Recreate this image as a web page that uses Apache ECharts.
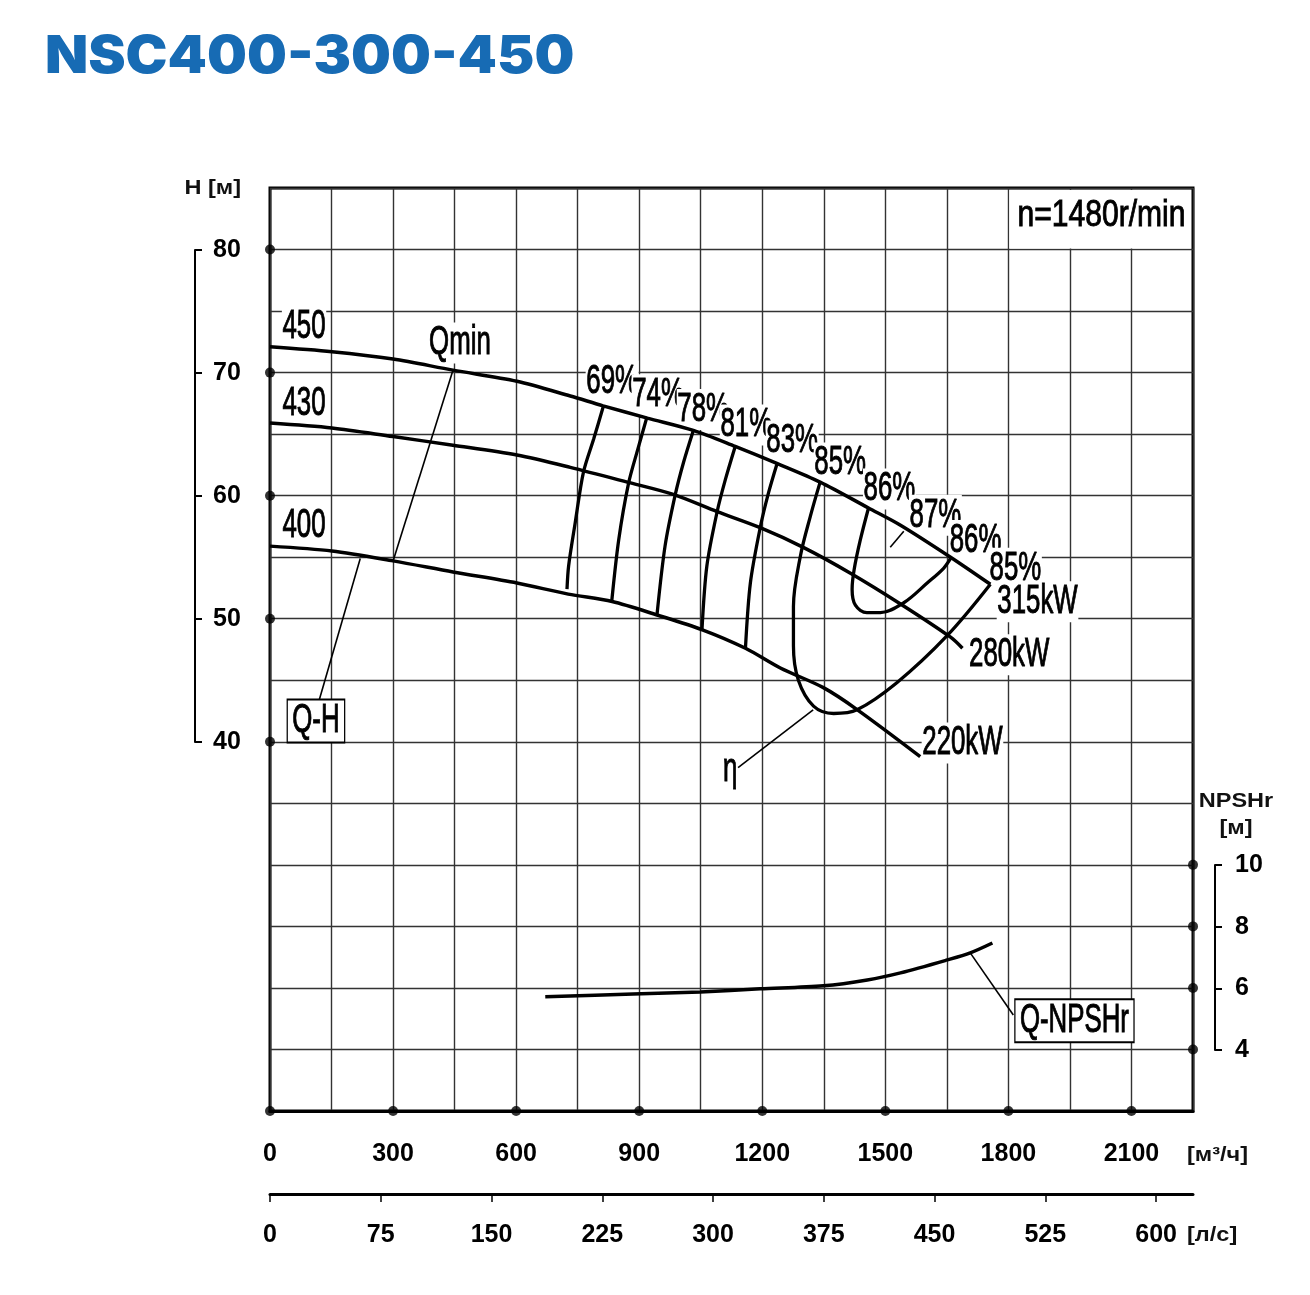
<!DOCTYPE html>
<html>
<head>
<meta charset="utf-8">
<title>NSC400-300-450</title>
<script src="https://cdn.jsdelivr.net/npm/echarts@6/dist/echarts.min.js"></script>
<style>
  html, body { margin: 0; padding: 0; background: #fff; }
  #chart { width: 1310px; height: 1295px; }
</style>
</head>
<body>
<div id="chart"></div>
<script>
// axis ticks
var qTicks = [0, 300, 600, 900, 1200, 1500, 1800, 2100];      // м³/ч
var lsTicks = [0, 75, 150, 225, 300, 375, 450, 525, 600];      // л/с
var hTicks = [40, 50, 60, 70, 80];                              // H, м
var npshTicks = [4, 6, 8, 10];                                  // NPSHr, м

// Q-H curves per impeller diameter, [Q m³/h, H m]
var curve450 = [[0, 72.1], [151, 71.7], [300, 71.1], [446, 70.2], [602, 69.3], [732, 68.1], [812, 67.3], [920, 66.3], [1032, 65.3], [1134, 64.0], [1237, 62.6], [1341, 61.1], [1459, 59.0], [1537, 57.6], [1659, 55.0], [1756, 52.8]];
var curve430 = [[0, 65.9], [151, 65.5], [300, 64.8], [446, 64.1], [602, 63.3], [732, 62.3], [871, 61.1], [983, 60.1], [1090, 58.7], [1195, 57.4], [1300, 55.8], [1415, 53.7], [1537, 51.2], [1659, 48.5], [1688, 47.6]];
var curve400 = [[0, 55.9], [151, 55.5], [300, 54.7], [446, 53.8], [602, 52.9], [727, 52.0], [834, 51.4], [944, 50.3], [1054, 49.1], [1159, 47.6], [1244, 46.0], [1349, 44.4], [1432, 42.6], [1585, 38.8]];

// iso-efficiency lines
var eff69 = [[813, 67.3], [789, 64.6], [764, 61.9], [744, 57.8], [728, 54.3], [724, 52.4]];
var eff74 = [[919, 66.4], [896, 63.7], [874, 61.0], [850, 56.4], [833, 51.4]];
var eff78 = [[1032, 65.3], [1008, 62.7], [988, 60.1], [963, 55.9], [943, 50.2]];
var eff81 = [[1134, 64.0], [1110, 61.3], [1090, 58.7], [1065, 54.3], [1053, 49.1]];
var eff83 = [[1236, 62.6], [1215, 60.2], [1195, 57.4], [1171, 52.9], [1159, 47.6]];
var eff85 = [[1341, 61.1], [1317, 58.3], [1293, 55.1], [1276, 51.0], [1276, 47.8], [1288, 45.0], [1325, 42.9], [1374, 42.3], [1431, 42.6], [1528, 44.8], [1650, 48.6], [1756, 52.8]];
var eff86 = [[1459, 59.0], [1439, 56.4], [1424, 54.0], [1419, 52.4], [1427, 51.1], [1455, 50.5], [1488, 50.5], [1545, 51.3], [1602, 52.9], [1642, 54.1], [1659, 54.9]];

// Q-NPSHr, [Q m³/h, NPSHr m]
var npshCurve = [[671, 5.71], [885, 5.80], [1049, 5.87], [1195, 5.97], [1349, 6.07], [1456, 6.26], [1537, 6.49], [1651, 6.91], [1707, 7.14], [1761, 7.46]];

// leader lines
var qminLeader = [[446, 70.2], [300, 54.7]];
var qhLeader = [[220, 54.9], [120, 43.4]];
var eff87Leader = [[1512, 55.8], [1545, 57.1]];
var etaLeader = [[1324, 42.6], [1141, 37.9]];
var npshLeader = [[1707, 7.14], [1812, 5.12]];

// text on the chart: [text, Q, H]
var annotations = [
  ["450", 83, 73.7], ["430", 83, 67.5], ["400", 83, 57.6], ["Qmin", 463, 72.4],
  ["69%", 834, 69.3], ["74%", 946, 68.2], ["78%", 1056, 67.0], ["81%", 1161, 65.75],
  ["83%", 1273, 64.45], ["85%", 1390, 62.66], ["86%", 1510, 60.55], ["87%", 1622, 58.4],
  ["86%", 1720, 56.35], ["85%", 1817, 54.1],
  ["315kW", 1871, 51.38], ["280kW", 1802, 47.07], ["220kW", 1688, 39.9], ["η", 1122, 37.7]
];

var sans = '"Liberation Sans", Arial, Helvetica, sans-serif';

function curve(data, width, yIdx, smooth) {
  return {
    type: "line",
    data: data,
    xAxisIndex: 0,
    yAxisIndex: yIdx || 0,
    smooth: smooth === undefined ? 0.3 : smooth,
    symbol: "none",
    silent: true,
    animation: false,
    lineStyle: { color: "#000", width: width },
    z: 3,
  };
}
function dots(data, yIdx) {
  return {
    type: "scatter",
    data: data,
    xAxisIndex: 0,
    yAxisIndex: yIdx,
    symbolSize: 10,
    clip: false,
    silent: true,
    itemStyle: { color: "#000" },
    z: 6,
  };
}

var tickLabel = { color: "#000", fontSize: 25, fontWeight: "bold", fontFamily: sans };
var gridLine = { show: true, lineStyle: { color: "#333", width: 1.4 } };

var option = {
  backgroundColor: "#fff",
  animation: false,
  grid: [
    { left: 270, top: 188, width: 923, height: 923, show: true, borderColor: "#000", borderWidth: 3, backgroundColor: "transparent" },
    { left: 195, top: 250, width: 10, height: 492 },
    { left: 1215, top: 865, width: 10, height: 185 },
    { left: 270, top: 1184, width: 923, height: 10 },
  ],
  xAxis: [
    {
      gridIndex: 0, type: "value", min: 0, max: 2250, interval: 150,
      axisLine: { show: true, lineStyle: { color: "#000", width: 3 } },
      axisTick: { show: false },
      splitLine: gridLine,
      axisLabel: Object.assign({
        margin: 31,
        formatter: function (v) { return qTicks.indexOf(v) >= 0 ? String(v) : ""; },
      }, tickLabel),
    },
    { gridIndex: 1, type: "value", show: false, min: 0, max: 1 },
    { gridIndex: 2, type: "value", show: false, min: 0, max: 1 },
    {
      gridIndex: 3, type: "value", min: 0, max: 625, interval: 75, position: "bottom",
      axisLine: { show: true, lineStyle: { color: "#000", width: 3 } },
      axisTick: { show: true, length: 8, customValues: lsTicks, lineStyle: { color: "#000", width: 1.5 } },
      splitLine: { show: false },
      axisLabel: Object.assign({ margin: 29, customValues: lsTicks }, tickLabel),
    },
  ],
  yAxis: [
    {
      gridIndex: 0, type: "value", min: 10, max: 85, interval: 5,
      axisLine: { show: false }, axisTick: { show: false }, axisLabel: { show: false },
      splitLine: gridLine,
    },
    {
      // NPSHr scale of the main grid
      gridIndex: 0, type: "value", min: 2, max: 32, interval: 2, position: "right", show: false,
    },
    {
      gridIndex: 1, type: "value", min: 40, max: 80, interval: 10, position: "left",
      axisLine: { show: true, lineStyle: { color: "#000", width: 2 } },
      axisTick: { show: true, inside: true, length: 7, lineStyle: { color: "#000", width: 2 } },
      splitLine: { show: false },
      axisLabel: Object.assign({ inside: true, margin: 18, customValues: hTicks }, tickLabel),
    },
    {
      gridIndex: 2, type: "value", min: 4, max: 10, interval: 2, position: "left",
      axisLine: { show: true, lineStyle: { color: "#000", width: 2 } },
      axisTick: { show: true, inside: true, length: 7, lineStyle: { color: "#000", width: 2 } },
      splitLine: { show: false },
      axisLabel: Object.assign({ inside: true, margin: 20, customValues: npshTicks }, tickLabel),
    },
    { gridIndex: 3, type: "value", show: false, min: 0, max: 1 },
  ],
  series: [
    curve(curve450, 3.5),
    curve(curve430, 3.5),
    curve(curve400, 3.5),
    curve(eff69, 3.3),
    curve(eff74, 3.3),
    curve(eff78, 3.3),
    curve(eff81, 3.3),
    curve(eff83, 3.3),
    curve(eff85, 3.3, 0, 0.35),
    curve(eff86, 3.3, 0, 0.35),
    curve(npshCurve, 3.5, 1),
    curve(qminLeader, 1.6, 0, false),
    curve(qhLeader, 1.6, 0, false),
    curve(eff87Leader, 1.6, 0, false),
    curve(etaLeader, 1.6, 0, false),
    curve(npshLeader, 1.6, 1, false),
    dots(qTicks.map(function (q) { return [q, 10]; }), 0),
    dots(hTicks.map(function (h) { return [0, h]; }), 0),
    dots(npshTicks.map(function (n) { return [2250, n]; }), 1),
  ],
};

var myChart = echarts.init(document.getElementById("chart"));
myChart.setOption(option);

// texts placed through the axes' scales
var toPx = function (q, v, yIdx) {
  return myChart.convertToPixel({ xAxisIndex: 0, yAxisIndex: yIdx || 0 }, [q, v]);
};
var graphics = [];
// title
graphics.push({
  type: "text", x: 45, y: 57, scaleX: 1.08, z: 10,
  style: { text: "NSC400-300-450", fontSize: 52, fontWeight: 900, fontFamily: "Inter", fill: "#176bb4", align: "left", verticalAlign: "middle" },
});
var c1 = toPx(1800, 85), c2 = toPx(2250, 80);
graphics.push({
  type: "rect", z: 1, silent: true,
  shape: { x: c1[0] + 1, y: c1[1] + 2, width: c2[0] - c1[0] - 3, height: c2[1] - c1[1] - 3 },
  style: { fill: "#fff" },
});
var rpm = toPx(2027, 82.68);
graphics.push({
  type: "text", x: rpm[0], y: rpm[1], scaleX: 0.835, z: 10,
  style: { text: "n=1480r/min", fontSize: 36, fontFamily: sans, fill: "#000", stroke: "#000", lineWidth: 0.9, align: "center", verticalAlign: "middle" },
});
annotations.forEach(function (a) {
  var p = toPx(a[1], a[2]);
  graphics.push({
    type: "text", x: p[0], y: p[1], scaleX: 0.63, z: 1,
    style: { text: a[0], fontSize: 41, fontFamily: sans, fill: "#000", stroke: "#000", lineWidth: 1, align: "center", verticalAlign: "middle", backgroundColor: "#fff", padding: [0, 1] },
  });
});
// boxed curve names
var boxQH = toPx(112, 41.7);
var boxNP = toPx(1961, 4.93, 1);
[["Q-H", boxQH], ["Q-NPSHr", boxNP]].forEach(function (b) {
  graphics.push({
    type: "text", x: b[1][0], y: b[1][1], scaleX: 0.63, z: 10,
    style: {
      text: b[0], fontSize: 41, fontFamily: sans, fill: "#000", stroke: "#000", lineWidth: 1, align: "center", verticalAlign: "middle",
      backgroundColor: "#fff", borderColor: "#000", borderWidth: 2, padding: [0, 7],
    },
  });
});
// unit captions
var unit = { fontSize: 21, fontWeight: "bold", fontFamily: sans, fill: "#111", verticalAlign: "middle" };
function caption(text, x, y, align) {
  graphics.push({ type: "text", x: x, y: y, scaleX: 1.12, style: Object.assign({ text: text, align: align }, unit) });
}
caption("H [м]", 241, 188, "right");
caption("NPSHr", 1236, 801, "center");
caption("[м]", 1236, 828, "center");
caption("[м³/ч]", 1187, 1155, "left");
caption("[л/с]", 1187, 1235, "left");

myChart.setOption({ graphic: { elements: graphics } });
</script>
</body>
</html>
